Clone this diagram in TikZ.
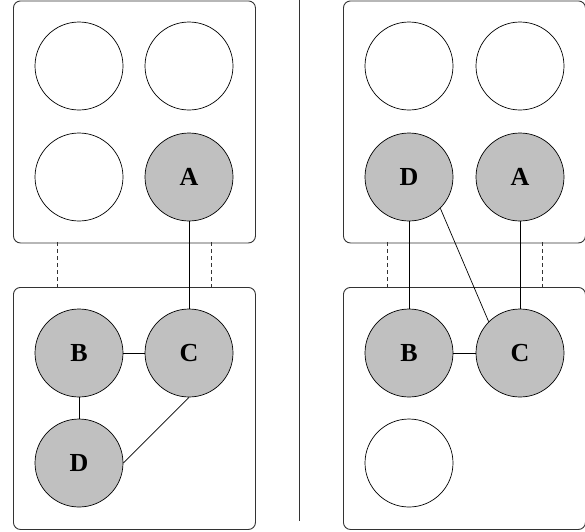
\documentclass[tikz,border=0pt]{standalone}
\usepackage{fontspec}
\setmainfont{Liberation Serif}
\definecolor{obsgray}{HTML}{C0C0C0}
\begin{document}
\begin{tikzpicture}[x=1pt,y=-1pt,
  panel/.style={draw=black!80, line width=0.9pt, rounded corners=7pt},
  var/.style={circle, draw=black, line width=0.7pt, minimum size=88pt, inner sep=0pt, fill=white, font=\fontsize{26}{30}\selectfont\bfseries},
  obs/.style={var, fill=obsgray},
  link/.style={draw=black, line width=0.7pt},
  tie/.style={draw=black!80, line width=0.7pt, dashed, dash pattern=on 4pt off 3pt}]
\useasboundingbox (0,0) rectangle (585,531);
% divider
\coordinate (divtop) at (299,0);
\coordinate (divbot) at (299,521);
\draw[line width=0.8pt, black!80] (divtop) -- (divbot);
% ---------- left ----------
\node[panel, minimum width=242pt, minimum height=242pt, anchor=north west] (LT) at (13,0.5) {};
\node[panel, minimum width=242pt, minimum height=242pt, anchor=north west] (LB) at (13,287) {};
\coordinate (l1a) at (57,242); \coordinate (l1b) at (57,287);
\coordinate (l2a) at (211,242); \coordinate (l2b) at (211,287);
\draw[tie] (l1a) -- (l1b);
\draw[tie] (l2a) -- (l2b);
\node[var] (lt1) at (79,66) {};
\node[var] (lt2) at (189,66) {};
\node[var] (lt3) at (79,177) {};
\node[obs] (lA) at (189,177) {A};
\node[obs] (lB) at (79,353) {B};
\node[obs] (lC) at (189,353) {C};
\node[obs] (lD) at (79,463) {D};
\draw[link] (lA) -- (lC);
\draw[link] (lB) -- (lC);
\draw[link] (lB) -- (lD);
\draw[link] (lC.south) -- (lD.east);
% ---------- right ----------
\node[panel, minimum width=242pt, minimum height=242pt, anchor=north west] (RT) at (343,0.5) {};
\node[panel, minimum width=242pt, minimum height=242pt, anchor=north west] (RB) at (343,287) {};
\coordinate (r1a) at (387,242); \coordinate (r1b) at (387,287);
\coordinate (r2a) at (542,242); \coordinate (r2b) at (542,287);
\draw[tie] (r1a) -- (r1b);
\draw[tie] (r2a) -- (r2b);
\node[var] (rt1) at (409,66) {};
\node[var] (rt2) at (520,66) {};
\node[obs] (rD) at (409,177) {D};
\node[obs] (rA) at (520,177) {A};
\node[obs] (rB) at (409,353) {B};
\node[obs] (rC) at (520,353) {C};
\node[var] (rb1) at (409,463) {};
\draw[link] (rD) -- (rB);
\draw[link] (rA) -- (rC);
\draw[link] (rB) -- (rC);
\draw[link] (rD.south east) -- (rC.north west);
\end{tikzpicture}
\end{document}
